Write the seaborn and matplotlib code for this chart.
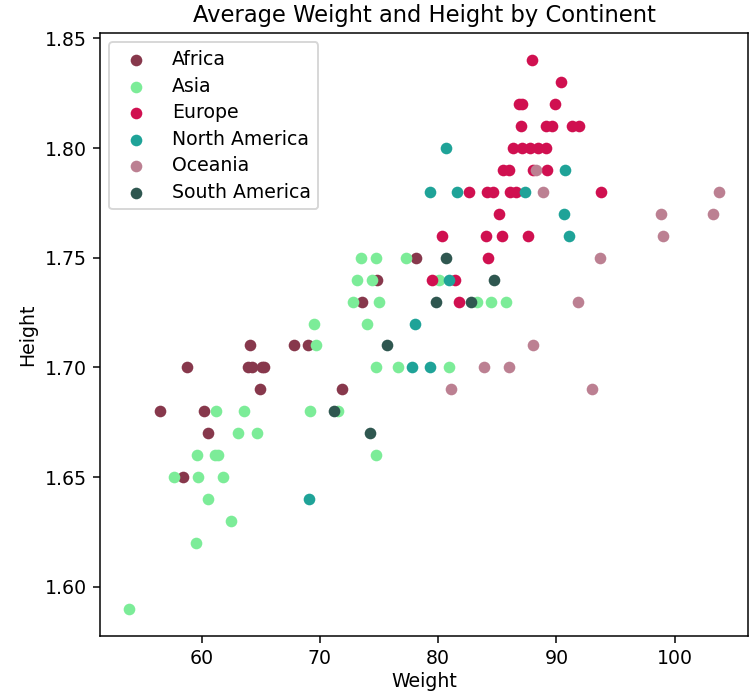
import matplotlib
matplotlib.use("Agg")
import matplotlib.pyplot as plt
import seaborn as sns
import pandas as pd

# Average weight (kg) and height (m) per country, grouped by continent
continents = ["Africa", "Asia", "Europe", "North America", "Oceania", "South America"]
colors = ["#87384C", "#7CEC98", "#D01050", "#1FA398", "#BC8092", "#2F5750"]

africa_weight = [64.1, 67.8, 69.0, 58.8, 63.9, 64.3, 65.1, 65.3, 64.9, 71.9,
                 56.5, 60.2, 60.5, 58.4, 78.1, 74.8, 73.6]
africa_height = [1.71, 1.71, 1.71, 1.70, 1.70, 1.70, 1.70, 1.70, 1.69, 1.69,
                 1.68, 1.68, 1.67, 1.65, 1.75, 1.74, 1.73]

asia_weight = [73.5, 74.7, 77.3, 73.1, 74.4, 80.1, 72.8, 75.0, 83.3, 84.5,
               85.7, 69.5, 74.0, 69.7, 74.7, 76.6, 80.9, 61.2, 63.6, 69.2,
               71.5, 63.1, 64.7, 59.6, 61.1, 61.4, 74.7, 57.7, 59.7, 61.8,
               60.5, 62.5, 59.5, 53.9]
asia_height = [1.75, 1.75, 1.75, 1.74, 1.74, 1.74, 1.73, 1.73, 1.73, 1.73,
               1.73, 1.72, 1.72, 1.71, 1.70, 1.70, 1.70, 1.68, 1.68, 1.68,
               1.68, 1.67, 1.67, 1.66, 1.66, 1.66, 1.66, 1.65, 1.65, 1.65,
               1.64, 1.63, 1.62, 1.59]

europe_weight = [87.9, 90.4, 86.8, 87.1, 89.9, 87.0, 89.1, 89.6, 91.3, 91.9,
                 86.3, 87.1, 87.8, 88.4, 89.1, 85.5, 86.0, 88.0, 89.2, 82.6,
                 84.1, 84.6, 86.1, 86.6, 93.8, 85.1, 80.3, 84.0, 85.4, 87.6,
                 84.2, 79.5, 81.4, 81.8]
europe_height = [1.84, 1.83, 1.82, 1.82, 1.82, 1.81, 1.81, 1.81, 1.81, 1.81,
                 1.80, 1.80, 1.80, 1.80, 1.80, 1.79, 1.79, 1.79, 1.79, 1.78,
                 1.78, 1.78, 1.78, 1.78, 1.78, 1.77, 1.76, 1.76, 1.76, 1.76,
                 1.75, 1.74, 1.74, 1.73]

north_america_weight = [80.7, 90.7, 79.3, 81.6, 87.3, 90.6, 91.1, 80.9, 78.0,
                        77.8, 79.3, 69.1]
north_america_height = [1.80, 1.79, 1.78, 1.78, 1.78, 1.77, 1.76, 1.74, 1.72,
                        1.70, 1.70, 1.64]

oceania_weight = [88.3, 88.9, 103.7, 98.8, 103.2, 99.0, 93.7, 91.8, 88.0,
                  83.9, 86.0, 81.1, 93.0]
oceania_height = [1.79, 1.78, 1.78, 1.77, 1.77, 1.76, 1.75, 1.73, 1.71,
                  1.70, 1.70, 1.69, 1.69]

south_america_weight = [80.7, 84.7, 79.8, 82.8, 75.7, 71.2, 74.2]
south_america_height = [1.75, 1.74, 1.73, 1.73, 1.71, 1.68, 1.67]

weights = [africa_weight, asia_weight, europe_weight, north_america_weight,
           oceania_weight, south_america_weight]
heights = [africa_height, asia_height, europe_height, north_america_height,
           oceania_height, south_america_height]

df = pd.concat(
    [pd.DataFrame({"Weight": w, "Height": h, "Continent": c})
     for c, w, h in zip(continents, weights, heights)],
    ignore_index=True,
)

fig = plt.figure(figsize=(749 / 136, 691 / 136), dpi=136)
ax = fig.add_axes([100 / 749, 1 - 636 / 691, 648 / 749, 603 / 691])

for name, color in zip(continents, colors):
    sub = df[df["Continent"] == name]
    sns.scatterplot(data=sub, x="Weight", y="Height", color=color, label=name,
                    s=38, linewidth=0, ax=ax)

ax.set_title("Average Weight and Height by Continent", fontsize=12)
ax.set_xlabel("Weight", labelpad=2)
ax.set_ylabel("Height")
ax.set_xticks([60, 70, 80, 90, 100])
ax.set_yticks([1.60, 1.65, 1.70, 1.75, 1.80, 1.85])
ax.legend(loc="upper left", labelspacing=0.4, handletextpad=0.9)

fig.savefig("out.png", dpi=136)
